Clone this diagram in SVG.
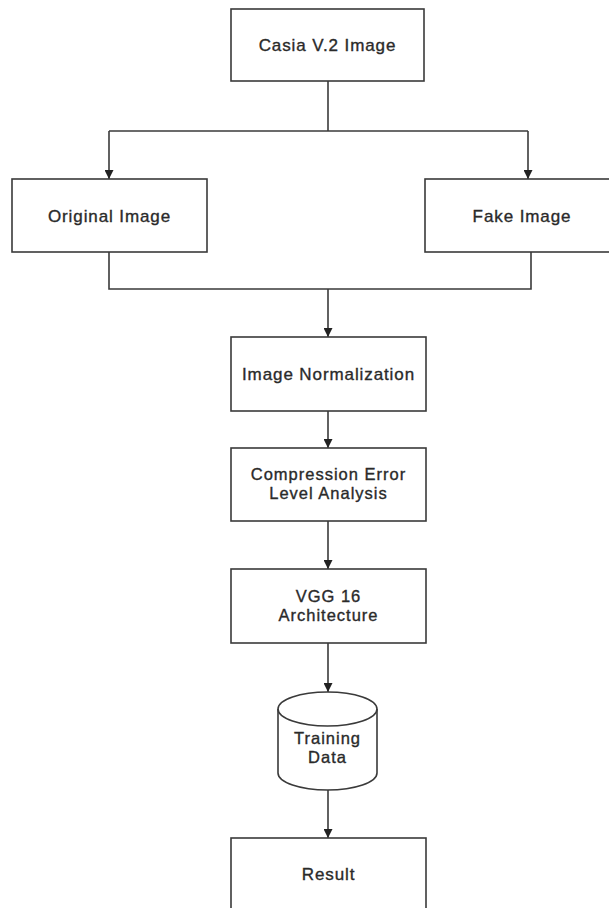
<svg xmlns="http://www.w3.org/2000/svg" width="609" height="908" viewBox="0 0 609 908">
<defs>
<style>
.box{fill:#fff;stroke:#3a3a3a;stroke-width:1.6}
.t{font-family:"Liberation Sans",Arial,Helvetica,sans-serif;font-size:17px;letter-spacing:0.9px;fill:#2a2a2a;stroke:#2a2a2a;stroke-width:0.35;text-anchor:middle}
.t2{font-size:16.5px;letter-spacing:1px}
.c{fill:none;stroke:#3a3a3a;stroke-width:1.6}
</style>
<marker id="ah" viewBox="0 0 10 10" refX="10" refY="5" markerWidth="9" markerHeight="9" markerUnits="userSpaceOnUse" orient="auto">
<path d="M0,0 L10,5 L0,10 Z" fill="#222"/>
</marker>
</defs>
<rect width="609" height="908" fill="#fff"/>
<g id="connectors">
<path class="c" d="M328,81 V131"/>
<path class="c" d="M109,131 H528"/>
<path class="c" d="M109,131 V179" marker-end="url(#ah)"/>
<path class="c" d="M528,131 V179" marker-end="url(#ah)"/>
<path class="c" d="M109,252 V289 H531 V252"/>
<path class="c" d="M328,289 V337" marker-end="url(#ah)"/>
<path class="c" d="M328,411 V448" marker-end="url(#ah)"/>
<path class="c" d="M328,521 V569" marker-end="url(#ah)"/>
<path class="c" d="M328,643 V692" marker-end="url(#ah)"/>
<path class="c" d="M328,790 V838" marker-end="url(#ah)"/>
</g>
<g id="casia">
<rect class="box" x="231" y="9" width="193" height="72"/>
<text class="t" x="327.5" y="51">Casia V.2 Image</text>
</g>
<g id="original">
<rect class="box" x="12" y="179" width="195" height="73"/>
<text class="t" x="109.5" y="222">Original Image</text>
</g>
<g id="fake">
<rect class="box" x="425" y="179" width="200" height="73"/>
<text class="t" x="522" y="222">Fake Image</text>
</g>
<g id="normalization">
<rect class="box" x="231" y="337" width="195" height="74"/>
<text class="t" x="328.5" y="380">Image Normalization</text>
</g>
<g id="ela">
<rect class="box" x="231" y="448" width="195" height="73"/>
<text class="t t2" x="328.5" y="480">Compression Error</text>
<text class="t t2" x="328.5" y="499">Level Analysis</text>
</g>
<g id="vgg">
<rect class="box" x="231" y="569" width="195" height="74"/>
<text class="t t2" x="328.5" y="602">VGG 16</text>
<text class="t t2" x="328.5" y="621">Architecture</text>
</g>
<g id="training">
<path class="box" d="M278,709 A49.5,17 0 0 1 377,709 L377,773 A49.5,17 0 0 1 278,773 Z"/>
<path class="c" d="M278,709 A49.5,17 0 0 0 377,709"/>
<text class="t t2" x="327.5" y="744">Training</text>
<text class="t t2" x="327.5" y="763">Data</text>
</g>
<g id="result">
<rect class="box" x="231" y="838" width="195" height="90"/>
<text class="t" x="328.5" y="880">Result</text>
</g>
</svg>
